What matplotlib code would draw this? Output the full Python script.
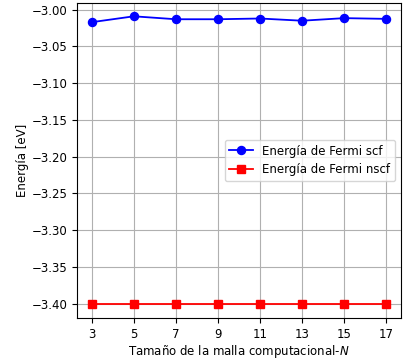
import matplotlib
matplotlib.use("Agg")
import matplotlib.pyplot as plt

N = [3, 5, 7, 9, 11, 13, 15, 17]
scf = [-3.017, -3.009, -3.013, -3.013, -3.012, -3.015, -3.0115, -3.0125]
nscf = [-3.400, -3.400, -3.400, -3.400, -3.400, -3.400, -3.400, -3.400]

plt.rcParams['font.size'] = 8.5
fig = plt.figure(figsize=(4.03, 3.60), dpi=100)
ax = fig.add_axes([77/403, 1-318/360, (401-77)/403, (318-3)/360])
ax.plot(N, scf, 'o-', color='blue', markersize=5.8, linewidth=1.3, label='Energía de Fermi scf')
ax.plot(N, nscf, 's-', color='red', markersize=5.8, linewidth=1.3, label='Energía de Fermi nscf')
ax.set_xticks(N)
ax.set_ylim(-3.4195, -2.9909)
ax.set_xlim(2.3, 17.7)
ax.grid(True)
ax.set_xlabel('Tamaño de la malla computacional-$N$', labelpad=1.5)
ax.set_ylabel('Energía [eV]', labelpad=2)
ax.legend(loc='center right')
fig.savefig('out.png', dpi=100)
